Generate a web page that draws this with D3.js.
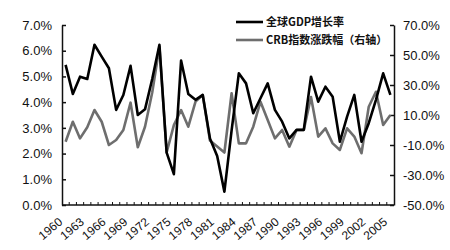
<!DOCTYPE html>
<html>
<head>
<meta charset="utf-8">
<script src="https://cdn.jsdelivr.net/npm/d3@7"></script>
<style>
  body { margin: 0; background: #fff; }
  svg text { font-family: "Liberation Sans", Arial, sans-serif; }
</style>
</head>
<body>
<div id="canvas"></div>
<script>
const years = d3.range(1960, 2006)

// 全球GDP增长率 (%), left axis
const gdpGrowth = [
  5.45, 4.32, 4.99, 4.9, 6.23, 5.77, 5.32, 3.7, 4.28, 5.41,
  3.5, 3.72, 4.9, 6.23, 2.04, 1.2, 5.62, 4.32, 4.09, 4.28,
  2.59, 1.91, 0.52, 2.9, 5.12, 4.73, 3.57, 4.15, 4.73, 3.7,
  3.24, 2.59, 2.92, 2.92, 4.99, 4.02, 4.6, 4.21, 2.46, 3.44,
  4.28, 2.46, 3.18, 4.09, 5.12, 4.28
]

// CRB指数涨跌幅 (%), right axis
const crbChange = [
  -7.8, 5.5, -5.6, 1.8, 13.3, 5.5, -10, -6.7, 0, 18.2,
  -11.5, 2.2, 25, 55.5, -15, 3.3, 13.3, 2.2, 18.9, 23.3,
  -7, -11, -15, 24.5, -8.9, -8.9, 2.2, 18.9, 6.7, -5.6,
  0, -11.1, 0, 0, 22, -4.4, 1.1, -8.9, -13.3, 1.1,
  -4.4, -15.5, 15.5, 25.5, 3.3, 10
]

const leftTicks = [0, 1, 2, 3, 4, 5, 6, 7]
const rightTicks = [-50, -30, -10, 10, 30, 50, 70]
const labelYears = d3.range(1960, 2006, 3)

const seriesNames = ['全球GDP增长率', 'CRB指数涨跌幅（右轴）']

const width = 450
const height = 250
const margin = { top: 25, right: 56, bottom: 45, left: 62 }

const svg = d3.select('#canvas')
  .append('svg')
    .attr('width', width)
    .attr('height', height)

const x = d3.scaleBand()
  .domain(years)
  .range([margin.left, width - margin.right])

const yLeft = d3.scaleLinear()
  .domain([0, 7])
  .range([height - margin.bottom, margin.top])

const yRight = d3.scaleLinear()
  .domain([-50, 70])
  .range([height - margin.bottom, margin.top])

const cx = d => x(d) + x.bandwidth() / 2

// left axis
svg.append('g')
  .attr('transform', `translate(${margin.left}, 0)`)
  .call(d3.axisLeft(yLeft)
    .tickValues(leftTicks)
    .tickSize(-4)
    .tickSizeOuter(0)
    .tickPadding(10)
    .tickFormat(d => d.toFixed(1) + '%'))
  .call(g => g.selectAll('text').attr('font-size', '13px').attr('fill', '#111').attr('font-family', null))
  .call(g => g.selectAll('line, path').attr('stroke', '#111').attr('stroke-width', 1.5))

// right axis
svg.append('g')
  .attr('transform', `translate(${width - margin.right}, 0)`)
  .call(d3.axisRight(yRight)
    .tickValues(rightTicks)
    .tickSize(-4)
    .tickSizeOuter(0)
    .tickPadding(9)
    .tickFormat(d => d.toFixed(1) + '%'))
  .call(g => g.selectAll('text').attr('font-size', '13px').attr('fill', '#111').attr('font-family', null))
  .call(g => g.selectAll('line, path').attr('stroke', '#111').attr('stroke-width', 1.5))

// bottom axis: ticks between categories, labels every 3 years
const base = height - margin.bottom
const xAxis = svg.append('g')
xAxis.append('line')
  .attr('x1', margin.left)
  .attr('x2', width - margin.right)
  .attr('y1', base)
  .attr('y2', base)
  .attr('stroke', '#111')
  .attr('stroke-width', 1.5)

xAxis.selectAll('.tick')
  .data(years.slice(1))
  .enter()
  .append('line')
    .attr('x1', d => x(d))
    .attr('x2', d => x(d))
    .attr('y1', base)
    .attr('y2', base - 3)
    .attr('stroke', '#111')
    .attr('stroke-width', 1)

xAxis.selectAll('text')
  .data(labelYears)
  .enter()
  .append('text')
    .attr('transform', d => `translate(${cx(d) - 5}, ${base + 15}) rotate(-40)`)
    .attr('text-anchor', 'end')
    .attr('dy', '0.35em')
    .attr('font-size', '12px')
    .attr('fill', '#111')
    .text(d => d)

// lines
const lineLeft = d3.line()
  .x((d, i) => cx(years[i]))
  .y(d => yLeft(d))

const lineRight = d3.line()
  .x((d, i) => cx(years[i]))
  .y(d => yRight(d))

svg.append('path')
  .datum(crbChange)
  .attr('fill', 'none')
  .attr('stroke', '#6e6e6e')
  .attr('stroke-width', 2.6)
  .attr('stroke-linejoin', 'round')
  .attr('d', lineRight)

svg.append('path')
  .datum(gdpGrowth)
  .attr('fill', 'none')
  .attr('stroke', '#000')
  .attr('stroke-width', 2.6)
  .attr('stroke-linejoin', 'round')
  .attr('d', lineLeft)

// legend
const legend = svg.append('g')
  .attr('transform', 'translate(236, 22)')

legend.selectAll('line')
  .data(['#000', '#6e6e6e'])
  .enter()
  .append('line')
    .attr('x1', 0)
    .attr('x2', 27)
    .attr('y1', (d, i) => i * 18)
    .attr('y2', (d, i) => i * 18)
    .attr('stroke', d => d)
    .attr('stroke-width', 2.6)

legend.selectAll('text')
  .data(seriesNames)
  .enter()
  .append('text')
    .attr('x', 30)
    .attr('y', (d, i) => i * 18)
    .attr('dy', '0.36em')
    .attr('font-size', '11px')
    .attr('font-weight', 'bold')
    .style('font-family', '"Noto Sans CJK SC", sans-serif')
    .attr('fill', '#111')
    .text(d => d)
</script>
</body>
</html>
